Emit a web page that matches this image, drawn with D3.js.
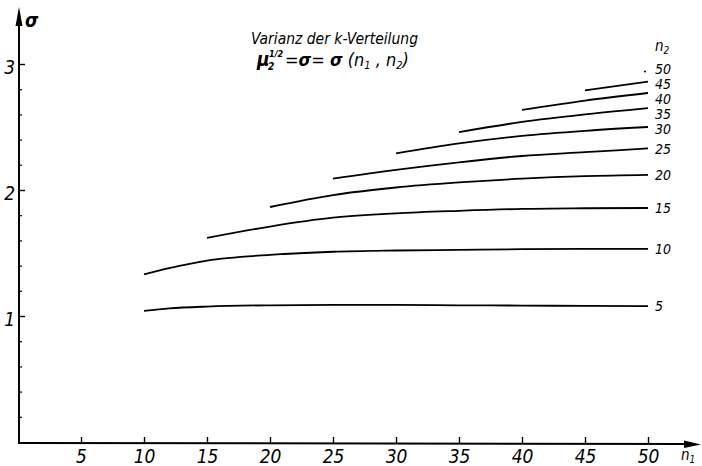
<!DOCTYPE html>
<html>
<head>
<meta charset="utf-8">
<script src="https://cdn.jsdelivr.net/npm/d3@7"></script>
<style>
  body { margin: 0; background: #fff; }
  text { font-family: "DejaVu Sans Condensed", "Liberation Sans Narrow", sans-serif; font-style: italic; fill: #000; }
</style>
</head>
<body>
<script>
// n2 -> sigma values along n1
const n2List = [5, 10, 15, 20, 25, 30, 35, 40, 45];
const n1Points = {
  5:  [10, 12, 15, 20, 25, 30, 35, 40, 45, 50],
  10: [10, 12, 15, 20, 25, 30, 35, 40, 45, 50],
  15: [15, 20, 25, 30, 35, 40, 45, 50],
  20: [20, 25, 30, 35, 40, 45, 50],
  25: [25, 30, 35, 40, 45, 50],
  30: [30, 35, 40, 45, 50],
  35: [35, 40, 45, 50],
  40: [40, 45, 50],
  45: [45, 50]
};
const sigmaValues = {
  5:  [1.04, 1.06, 1.075, 1.085, 1.088, 1.088, 1.085, 1.083, 1.08, 1.078],
  10: [1.33, 1.38, 1.44, 1.485, 1.51, 1.52, 1.525, 1.53, 1.532, 1.532],
  15: [1.62, 1.71, 1.78, 1.815, 1.835, 1.85, 1.855, 1.857],
  20: [1.865, 1.96, 2.02, 2.06, 2.09, 2.11, 2.12],
  25: [2.09, 2.16, 2.22, 2.27, 2.30, 2.33],
  30: [2.29, 2.37, 2.43, 2.47, 2.50],
  35: [2.46, 2.54, 2.60, 2.65],
  40: [2.635, 2.71, 2.77],
  45: [2.79, 2.86]
};
const pointN2 = 50, pointSigma = 2.94;   // n2 = 50 reduces to a dot
const xTicks = [5, 10, 15, 20, 25, 30, 35, 40, 45, 50];
const yTicks = [1, 2, 3];
const yMinor = [0.2, 0.4, 0.6, 0.8, 1.2, 1.4, 1.6, 1.8, 2.2, 2.4, 2.6, 2.8];

const svg = d3.select("body").append("svg")
  .attr("width", 702)
  .attr("height", 466);

const x = d3.scaleLinear().domain([0, 50]).range([18, 648]);
const y = d3.scaleLinear().domain([0, 3]).range([442, 64]);

// axes lines with arrows
svg.append("line").attr("x1", 19).attr("y1", 443).attr("x2", 19).attr("y2", 20)
  .attr("stroke", "#000").attr("stroke-width", 2);
svg.append("path").attr("d", "M19,7 L15.5,26 L22.5,26 Z").attr("fill", "#000");
svg.append("line").attr("x1", 18).attr("y1", 443).attr("x2", 688).attr("y2", 444)
  .attr("stroke", "#000").attr("stroke-width", 2);
svg.append("path").attr("d", "M701,444.5 L684,440.5 L684,448 Z").attr("fill", "#000");

// x ticks
const xAxis = svg.append("g").attr("transform", "translate(0,443)")
  .call(d3.axisBottom(x).tickValues(xTicks).tickSize(-6).tickPadding(5).tickFormat(d3.format("d")));
xAxis.select(".domain").remove();
xAxis.selectAll(".tick line").attr("stroke", "#000").attr("stroke-width", 1.4);
xAxis.selectAll(".tick text").attr("font-size", 19).attr("font-family", null).attr("dy", "0.8em");

// y ticks
const yAxis = svg.append("g").attr("transform", "translate(19,0)")
  .call(d3.axisLeft(y).tickValues(yTicks).tickSize(-6).tickPadding(4).tickFormat(d3.format("d")));
yAxis.select(".domain").remove();
yAxis.selectAll(".tick line").attr("stroke", "#000").attr("stroke-width", 1.4);
yAxis.selectAll(".tick text").attr("font-size", 19).attr("font-family", null).attr("dy", "0.5em");

const yMinorAxis = svg.append("g").attr("transform", "translate(19,0)")
  .call(d3.axisLeft(y).tickValues(yMinor).tickSize(-3).tickFormat(""));
yMinorAxis.select(".domain").remove();
yMinorAxis.selectAll(".tick line").attr("stroke", "#000").attr("stroke-width", 1.2);

// axis names
svg.append("text").attr("x", 25).attr("y", 27).attr("font-size", 19)
  .attr("font-weight", "bold").text("σ");
const n1Lab = svg.append("text").attr("x", 681).attr("y", 460).attr("font-size", 15);
n1Lab.append("tspan").text("n");
n1Lab.append("tspan").attr("font-size", 10).attr("dy", 3).text("1");

// title
svg.append("text").attr("x", 251).attr("y", 44).attr("font-size", 16)
  .attr("textLength", 167).attr("lengthAdjust", "spacingAndGlyphs")
  .text("Varianz der k-Verteilung");
const eq = svg.append("text").attr("x", 257).attr("y", 66).attr("font-size", 18);
eq.append("tspan").attr("font-size", 19).attr("font-weight", "bold").text("μ");
eq.append("tspan").attr("x", 269).attr("dy", -9).attr("font-size", 9).attr("font-weight", "bold").text("1/2");
eq.append("tspan").attr("x", 268).attr("dy", 13).attr("font-size", 10).attr("font-weight", "bold").text("2");
eq.append("tspan").attr("x", 285).attr("dy", -4).text("=");
eq.append("tspan").attr("font-weight", "bold").text("σ");
eq.append("tspan").text("= ");
eq.append("tspan").attr("font-weight", "bold").text("σ");
eq.append("tspan").text(" (n");
eq.append("tspan").attr("font-size", 11).attr("dy", 3).text("1");
eq.append("tspan").attr("dy", -3).text(" , n");
eq.append("tspan").attr("font-size", 11).attr("dy", 3).text("2");
eq.append("tspan").attr("dy", -3).text(")");

// curves
const line = d3.line()
  .x(d => x(d[0]))
  .y(d => y(d[1]))
  .curve(d3.curveMonotoneX);

const curves = n2List.map(n2 => ({
  n2: n2,
  pts: n1Points[n2].map((n1, i) => [n1, sigmaValues[n2][i]])
}));

svg.append("g").selectAll("path")
  .data(curves)
  .join("path")
  .attr("d", d => line(d.pts))
  .attr("fill", "none")
  .attr("stroke", "#000")
  .attr("stroke-width", 1.8);

svg.append("circle").attr("cx", x(pointN2) - 3).attr("cy", y(pointSigma)).attr("r", 1)
  .attr("fill", "#000");

// curve labels: start at the line end, pushed down so they keep clear of each other
const labels = [{ n2: pointN2, cy: y(pointSigma) - 3 }]
  .concat(curves.slice().reverse().map(d => ({ n2: d.n2, cy: y(d.pts[d.pts.length - 1][1]) })));
for (let i = 1; i < labels.length; i++) {
  labels[i].cy = Math.max(labels[i].cy, labels[i - 1].cy + 15);
}
svg.append("g").selectAll("text")
  .data(labels)
  .join("text")
  .attr("x", x(50) + 7)
  .attr("y", d => d.cy)
  .attr("dy", "0.38em")
  .attr("font-size", 14)
  .text(d => d.n2);

const n2Lab = svg.append("text").attr("x", 655).attr("y", 51).attr("font-size", 15);
n2Lab.append("tspan").text("n");
n2Lab.append("tspan").attr("font-size", 10).attr("dy", 3).text("2");
</script>
</body>
</html>
